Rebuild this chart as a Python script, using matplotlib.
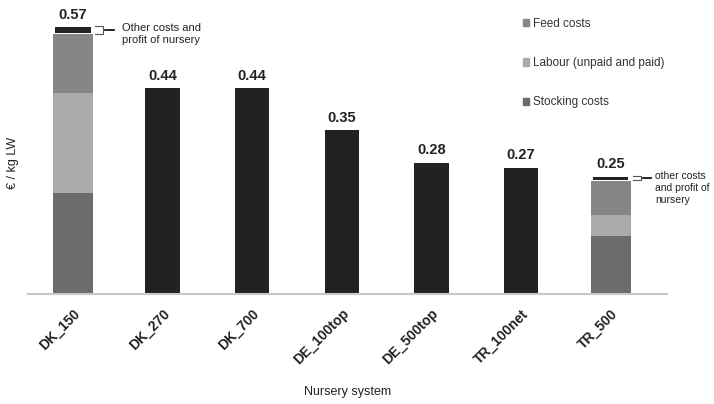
import numpy as np
import matplotlib
matplotlib.use("Agg")
import matplotlib.pyplot as plt
from matplotlib.patches import Patch

plt.rcParams['font.family'] = ['Liberation Sans', 'DejaVu Sans']

# data
systems = ["DK_150", "DK_270", "DK_700", "DE_100top", "DE_500top", "TR_100net", "TR_500"]
totals = [0.57, 0.44, 0.44, 0.35, 0.28, 0.27, 0.25]
stocking = [0.215, 0, 0, 0, 0, 0, 0.125]
labour = [0.215, 0, 0, 0, 0, 0, 0.043]
feed = [0.125, 0, 0, 0, 0, 0, 0.074]

c_stock = "#6c6c6c"
c_labour = "#ababab"
c_feed = "#868686"
c_other = "#222222"

fig = plt.figure(figsize=(7.14, 4.04), dpi=100)
ax = fig.add_axes([28 / 714, 1 - 294 / 404, 639 / 714, 284 / 404])

x = np.arange(len(systems))
widths = [0.45, 0.385, 0.385, 0.385, 0.385, 0.385, 0.45]
other = [t - s - l - f for t, s, l, f in zip(totals, stocking, labour, feed)]
b1 = np.array(stocking)
b2 = b1 + np.array(labour)
b3 = b2 + np.array(feed)

ax.bar(x, stocking, widths, color=c_stock)
ax.bar(x, labour, widths, bottom=b1, color=c_labour)
ax.bar(x, feed, widths, bottom=b2, color=c_feed)
# the top black piece; where the bar is stacked it sits with a thin white gap
for i in range(len(systems)):
    if b3[i] > 0:
        ax.bar(x[i], other[i] - 0.002, widths[i] * 0.88, bottom=b3[i] + 0.002,
               color=c_other)
    else:
        ax.bar(x[i], other[i], widths[i], color=c_other)

for i, t in enumerate(totals):
    ax.text(x[i], t + 0.012, f"{t:.2f}", ha="center", va="bottom",
            fontsize=10.5, fontweight="bold", color="#222222")

# brackets pointing at the small "other costs" piece
def bracket(i, txt, dx=0.3, size=8):
    xr = x[i] + widths[i] / 2 + 0.02
    y0 = b3[i] + 0.001
    y1 = totals[i] + 0.003
    ax.plot([xr, xr + 0.09, xr + 0.09, xr], [y1, y1, y0, y0],
            color="#555555", lw=0.8, clip_on=False)
    ym = (y0 + y1) / 2
    ax.plot([xr + 0.11, xr + 0.21], [ym, ym], color="black", lw=1.2, clip_on=False)
    ax.text(xr + dx, ym + 0.014, txt, ha="left", va="top", fontsize=size,
            linespacing=1.2, color="#222222")

bracket(0, "Other costs and\nprofit of nursery")
bracket(6, "other costs\nand profit of\nnursery", dx=0.25, size=7.5)

ax.set_xlim(-0.5, 6.628)
ax.set_ylim(0, 0.607)
ax.set_yticks([])
for s in ["top", "right", "left"]:
    ax.spines[s].set_visible(False)
ax.spines["bottom"].set_color("#c8c8c8")
ax.spines["bottom"].set_linewidth(1.5)

ax.set_xticks(x)
ax.set_xticklabels(systems, rotation=45, ha="right", va="top",
                   rotation_mode="anchor", fontsize=10, fontweight="bold",
                   color="#222222")
ax.tick_params(axis="x", length=0, pad=9)

fig.text(348 / 714, 1 - 392 / 404, "Nursery system", ha="center", va="center",
         fontsize=9, color="#222222")
fig.text(13 / 714, 1 - 163 / 404, "€ / kg LW", ha="center", va="center",
         rotation=90, fontsize=9, color="#222222")

handles = [Patch(color=c_feed), Patch(color=c_labour), Patch(color=c_stock)]
labels = ["Feed costs", "Labour (unpaid and paid)", "Stocking costs"]
fig.legend(handles, labels, loc="upper left",
           bbox_to_anchor=(523 / 714, 1 - 18 / 404), frameon=False,
           fontsize=8.5, handlelength=0.55, handleheight=0.55,
           handletextpad=0.3, labelspacing=2.3, borderpad=0, borderaxespad=0,
           labelcolor="#333333")

fig.savefig("out.png", dpi=100)
